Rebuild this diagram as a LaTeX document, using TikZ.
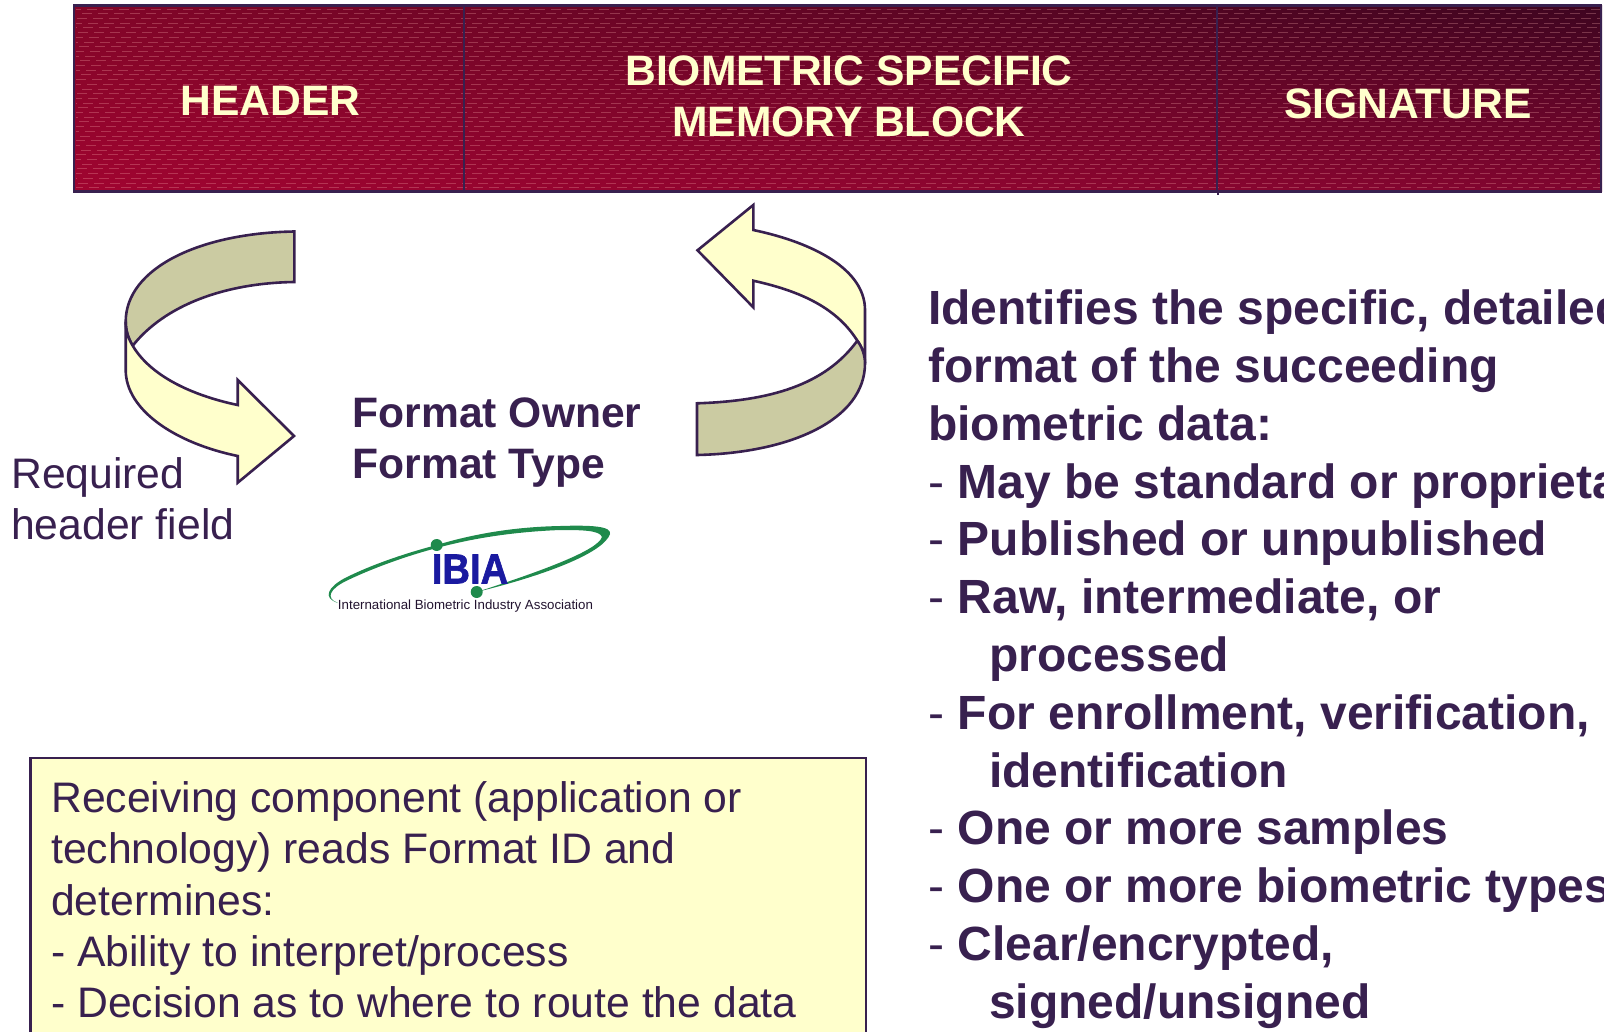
\documentclass[tikz,border=0pt]{standalone}
\usepackage{fontspec}
\setmainfont{Liberation Sans}
\usetikzlibrary{shadings}

\definecolor{inkcol}{HTML}{38204F}
\definecolor{paleyellow}{HTML}{FFFFCC}
\definecolor{olivecol}{HTML}{CBCBA2}
\definecolor{logogreen}{HTML}{1F8A4C}
\definecolor{logoblue}{HTML}{1A1AA0}
\definecolor{barll}{HTML}{A00430}
\definecolor{barul}{HTML}{820528}
\definecolor{barlr}{HTML}{80052F}
\definecolor{barur}{HTML}{3E0520}

\begin{document}
\begin{tikzpicture}[x=1pt, y=-1pt, node distance=100pt,
    cell/.style={rectangle, draw=inkcol, line width=2.8pt, minimum height=186pt, inner sep=0pt},
    celltext/.style={text=paleyellow, font=\fontsize{42.6}{51}\selectfont\bfseries, align=center, inner sep=0pt},
    bigtext/.style={text=inkcol, font=\fontsize{48}{57.8}\selectfont\bfseries, align=left, anchor=north west, inner sep=0pt},
    boldtext/.style={text=inkcol, font=\fontsize{42.6}{51}\selectfont\bfseries, align=left, anchor=north west, inner sep=0pt},
    plaintext/.style={text=inkcol, font=\fontsize{42.7}{51.2}\selectfont, align=left, anchor=north west, inner sep=0pt},
    ribbon/.style={draw=inkcol, line width=2.6pt, line join=miter}]

    \path[use as bounding box, clip] (0,0) rectangle (1604,1031);

    % red bar
    \shade[shading=bilinear interpolation, lower left=barll, upper left=barul, lower right=barlr, upper right=barur] (74,5.5) rectangle (1602,191);
    \foreach \y [count=\i] in {9,13.7,...,189} {
      \draw[white!70!red, opacity=0.28, line width=0.8pt, dash pattern=on 10pt off 6pt, dash phase=\i*5pt] (76,\y) -- (1600,\y);
    }

    \node[cell, minimum width=390pt] (header) at (269,98.5) {};
    \node[cell, minimum width=753pt, right of=header, node distance=571.5pt] (memblock) {};
    \node[cell, minimum width=384pt, right of=memblock, node distance=568.5pt] (signature) {};
    \draw[inkcol, line width=2pt] (memblock.south east) -- ++(0,2);

    \node[celltext] (headertext) at (270.5,101) {HEADER};
    \node[celltext] (memtext) at (849,96) {BIOMETRIC SPECIFIC\\MEMORY BLOCK};
    \node[celltext] (signaturetext) at (1408,104) {SIGNATURE};

    % left ribbon
    \draw[ribbon, fill=olivecol] (294.3,231.5) .. controls (200,233) and (125.7,268) .. (125.7,321.7)
      .. controls (125.7,330) and (128,338) .. (132.7,345.7)
      .. controls (165,305) and (225,283) .. (294.3,282) -- cycle;
    \draw[ribbon, fill=paleyellow] (125.7,321.7) -- (125.7,370)
      .. controls (125.7,410) and (175,443) .. (237.7,456)
      -- (237.7,482.7) -- (294,436) -- (237.7,380) -- (237.7,405)
      .. controls (190,395) and (150,375) .. (132.7,345.7)
      .. controls (128,338) and (125.7,330) .. (125.7,321.7) -- cycle;

    % right ribbon
    \draw[ribbon, fill=paleyellow] (697.5,250.3) -- (753.3,205) -- (753.3,230)
      .. controls (815,243) and (865,270) .. (865,310) -- (865,363.3)
      .. controls (865,355) and (862,347) .. (857.3,340.7)
      .. controls (835,305) and (795,290) .. (753.3,280.7) -- (753.3,307.3) -- cycle;
    \draw[ribbon, fill=olivecol] (697,403.3) -- (697,455)
      .. controls (790,453) and (865,420) .. (865,363.3)
      .. controls (865,355) and (862,347) .. (857.3,340.7)
      .. controls (825,385) and (770,401) .. (697,403.3) -- cycle;

    \node[plaintext] (required) at (11,457) {Required\\header field};
    \node[boldtext] (format) at (352.5,397.5) {Format Owner\\Format Type};

    % logo
    \fill[logogreen] (338,603) .. controls (322,598) and (328,587) .. (345,578)
      .. controls (375,563) and (410,552) .. (436.7,545)
      .. controls (470,535) and (510,527) .. (560,526)
      .. controls (590,525) and (612,526) .. (610,534)
      .. controls (604,552) and (550,574) .. (476.7,592)
      .. controls (545,570) and (598,550) .. (602,537)
      .. controls (600,530) and (580,530) .. (560,530)
      .. controls (510,532) and (470,539) .. (436.7,548)
      .. controls (410,555) and (375,567) .. (346,581)
      .. controls (330,589) and (325,598) .. (338,603) -- cycle;
    \node[circle, fill=logogreen, minimum size=12pt, inner sep=0pt] (dotupper) at (436.7,545) {};
    \node[circle, fill=logogreen, minimum size=12pt, inner sep=0pt] (dotlower) at (476.7,592) {};
    \node[text=logoblue, font=\fontsize{42}{42}\selectfont\bfseries\addfontfeature{FakeBold=1.5}, xscale=0.91, inner sep=0pt] (ibia) at (470,569) {IBIA};
    \node[text=inkcol!60!black, font=\fontsize{13.3}{13.3}\selectfont, inner sep=0pt] (ibiatext) at (465.5,606.5) {International Biometric Industry Association};

    % right list
    \node[bigtext] (details) at (928,289.8) {Identifies the specific, detailed\\
      format of the succeeding\\
      biometric data:\\
      \makebox[29.5pt][l]{\mdseries-}May be standard or proprietary\\
      \makebox[29.5pt][l]{\mdseries-}Published or unpublished\\
      \makebox[29.5pt][l]{\mdseries-}Raw, intermediate, or\\
      \hspace*{61pt}processed\\
      \makebox[29.5pt][l]{\mdseries-}For enrollment, verification, or\\
      \hspace*{61pt}identification\\
      \makebox[29.5pt][l]{\mdseries-}One or more samples\\
      \makebox[29.5pt][l]{\mdseries-}One or more biometric types\\
      \makebox[29.5pt][l]{\mdseries-}Clear/encrypted,\\
      \hspace*{61pt}signed/unsigned};

    % yellow box
    \draw[draw=inkcol, fill=paleyellow, line width=2.8pt] (30.7,758) rectangle (866,1045);
    \node[plaintext] (receiving) at (51,781.5) {Receiving component (application or\\
      technology) reads Format ID and\\
      determines:\\
      - Ability to interpret/process\\
      - Decision as to where to route the data};
\end{tikzpicture}
\end{document}
